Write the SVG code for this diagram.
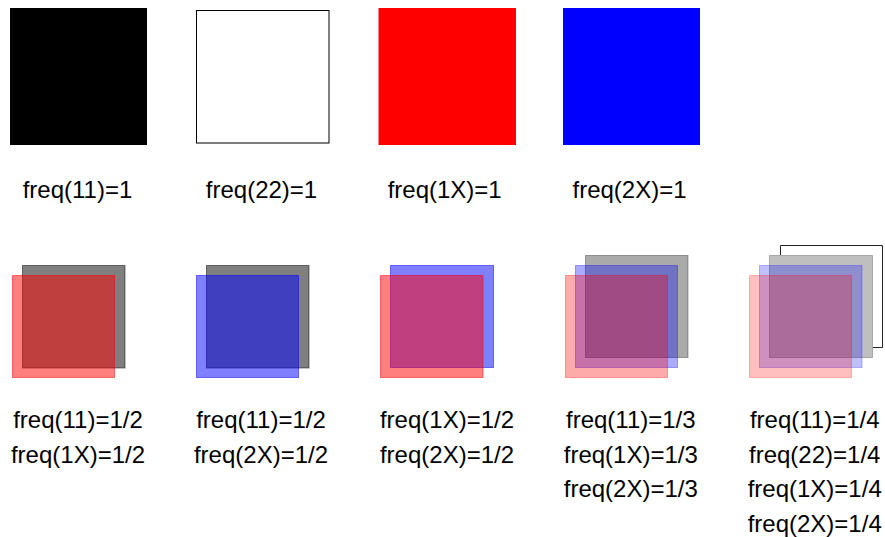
<svg xmlns="http://www.w3.org/2000/svg" width="885" height="537" viewBox="0 0 885 537">
<style>
text{font-family:"Liberation Sans",Arial,sans-serif;font-size:24px;fill:#000;text-anchor:middle}
.g2{fill:#000;fill-opacity:.5;stroke:#000;stroke-opacity:.5}
.r2{fill:#f00;fill-opacity:.5;stroke:#f00;stroke-opacity:.5}
.b2{fill:#00f;fill-opacity:.5;stroke:#00f;stroke-opacity:.5}
.g3{fill:#000;fill-opacity:.333;stroke:#000;stroke-opacity:.333}
.r3{fill:#f00;fill-opacity:.333;stroke:#f00;stroke-opacity:.333}
.b3{fill:#00f;fill-opacity:.333;stroke:#00f;stroke-opacity:.333}
.g4{fill:#000;fill-opacity:.25;stroke:#000;stroke-opacity:.25}
.r4{fill:#f00;fill-opacity:.25;stroke:#f00;stroke-opacity:.25}
.b4{fill:#00f;fill-opacity:.25;stroke:#00f;stroke-opacity:.25}
</style>
<rect width="885" height="537" fill="#fff"/>
<g id="black">
<rect x="10" y="8" width="137" height="137" fill="#000"/>
<text x="77.5" y="198">freq(11)=1</text>
</g>
<g id="white">
<rect x="196.5" y="10.5" width="132.5" height="132.5" fill="#fff" stroke="#000" stroke-width="1"/>
<text x="261.5" y="198">freq(22)=1</text>
</g>
<g id="red">
<rect x="378.5" y="8" width="137.5" height="137" fill="#f00"/>
<text x="444.7" y="198">freq(1X)=1</text>
</g>
<g id="blue">
<rect x="563" y="8" width="137" height="137" fill="#00f"/>
<text x="629.5" y="198">freq(2X)=1</text>
</g>
<g id="mix1">
<rect class="g2" x="22.5" y="265.5" width="102.5" height="102.5"/>
<rect class="r2" x="12.5" y="275.5" width="102" height="102"/>
<text x="78" y="428">freq(11)=1/2</text>
<text x="78" y="462.5">freq(1X)=1/2</text>
</g>
<g id="mix2">
<rect class="g2" x="206.5" y="265.5" width="102.5" height="102.5"/>
<rect class="b2" x="196.5" y="275.5" width="102" height="102"/>
<text x="261" y="428">freq(11)=1/2</text>
<text x="261" y="462.5">freq(2X)=1/2</text>
</g>
<g id="mix3">
<rect class="b2" x="390.5" y="265.5" width="103" height="102"/>
<rect class="r2" x="380.5" y="275.5" width="102.5" height="102"/>
<text x="447" y="428">freq(1X)=1/2</text>
<text x="447" y="462.5">freq(2X)=1/2</text>
</g>
<g id="mix4">
<rect class="g3" x="585.5" y="255.5" width="102.5" height="102"/>
<rect class="b3" x="575.5" y="265.5" width="102" height="102"/>
<rect class="r3" x="565.5" y="275.5" width="102" height="102"/>
<text x="630.8" y="428">freq(11)=1/3</text>
<text x="630.8" y="462.5">freq(1X)=1/3</text>
<text x="630.8" y="497">freq(2X)=1/3</text>
</g>
<g id="mix5">
<polyline points="780.5,255 780.5,245.5 882.5,245.5 882.5,347.5 873,347.5" fill="none" stroke="#222" stroke-width="1"/>
<rect class="g4" x="769.5" y="255.5" width="103" height="102"/>
<rect class="b4" x="759.5" y="265.5" width="102.5" height="102"/>
<rect class="r4" x="749.5" y="275.5" width="102" height="102"/>
<text x="814.7" y="428">freq(11)=1/4</text>
<text x="814.7" y="462.5">freq(22)=1/4</text>
<text x="814.7" y="497">freq(1X)=1/4</text>
<text x="814.7" y="531.5">freq(2X)=1/4</text>
</g>
<g id="connectors"/>
</svg>
